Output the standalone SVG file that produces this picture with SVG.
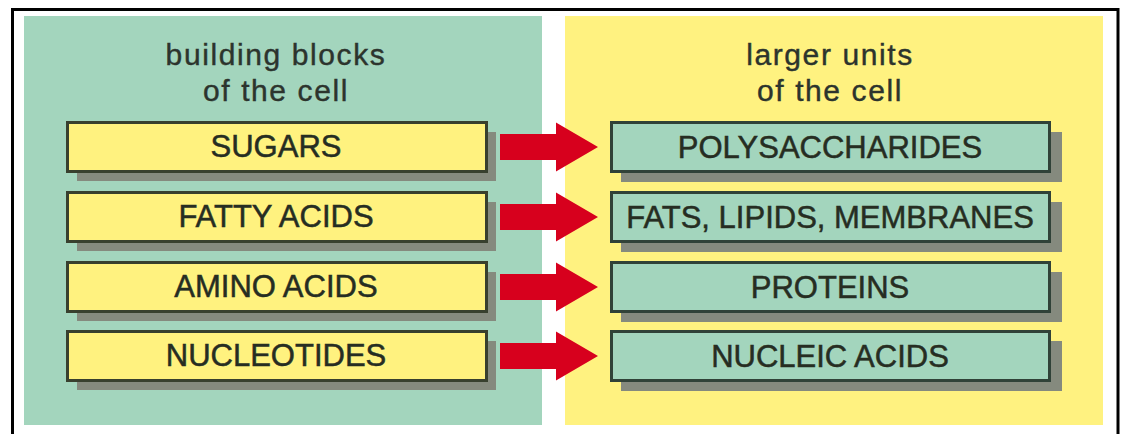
<svg xmlns="http://www.w3.org/2000/svg" width="1123" height="434" viewBox="0 0 1123 434">
  <defs>
    <style>
      .title { font-family: "Liberation Sans", Arial, sans-serif; font-size: 30px; fill: #2c342d; stroke: #2c342d; stroke-width: 0.4; text-anchor: middle; letter-spacing: 1.6px; }
      .lbl { font-family: "Liberation Sans", Arial, sans-serif; font-size: 31px; fill: #262d22; stroke: #262d22; stroke-width: 0.5; text-anchor: middle; }
      .shadow { fill: #858a7e; }
      .ybox { fill: #fff27f; stroke: #38402e; stroke-width: 3; }
      .gbox { fill: #a3d5bd; stroke: #304238; stroke-width: 3; }
      .arrow { fill: #d7001d; }
    </style>
    <path id="arr" class="arrow" d="M0,-13 L56,-13 L56,-24.5 L98,0 L56,24.5 L56,13 L0,13 Z"/>
  </defs>

  <rect x="0" y="0" width="1123" height="434" fill="#ffffff"/>
  <rect x="12.5" y="9.5" width="1105.5" height="440" fill="#ffffff" stroke="#000000" stroke-width="3"/>

  <g id="panel-left">
    <rect x="24" y="16" width="518" height="409" fill="#a3d5bd"/>
    <text class="title" x="276" y="65">building blocks</text>
    <text class="title" x="276" y="101">of the cell</text>
  </g>
  <g id="panel-right">
    <rect x="565" y="16" width="538" height="409" fill="#fff280"/>
    <text class="title" x="830" y="65">larger units</text>
    <text class="title" x="830" y="101">of the cell</text>
  </g>

  <g id="node-sugars">
    <rect class="shadow" x="77" y="132" width="419" height="49"/>
    <rect class="ybox" x="67.5" y="122.5" width="419" height="49"/>
    <text class="lbl" x="276" y="157">SUGARS</text>
  </g>
  <g id="node-fatty-acids">
    <rect class="shadow" x="77" y="202" width="419" height="49"/>
    <rect class="ybox" x="67.5" y="192.5" width="419" height="49"/>
    <text class="lbl" x="276" y="227">FATTY ACIDS</text>
  </g>
  <g id="node-amino-acids">
    <rect class="shadow" x="77" y="272" width="419" height="49"/>
    <rect class="ybox" x="67.5" y="262.5" width="419" height="49"/>
    <text class="lbl" x="276" y="297">AMINO ACIDS</text>
  </g>
  <g id="node-nucleotides">
    <rect class="shadow" x="77" y="341" width="419" height="49"/>
    <rect class="ybox" x="67.5" y="331.5" width="419" height="49"/>
    <text class="lbl" x="276" y="366">NUCLEOTIDES</text>
  </g>

  <g id="node-polysaccharides">
    <rect class="shadow" x="621" y="132" width="441" height="50"/>
    <rect class="gbox" x="611.5" y="122.5" width="438" height="49"/>
    <text class="lbl" x="830" y="158">POLYSACCHARIDES</text>
  </g>
  <g id="node-fats">
    <rect class="shadow" x="621" y="202" width="441" height="50"/>
    <rect class="gbox" x="611.5" y="192.5" width="438" height="49"/>
    <text class="lbl" x="830" y="228">FATS, LIPIDS, MEMBRANES</text>
  </g>
  <g id="node-proteins">
    <rect class="shadow" x="621" y="272" width="441" height="50"/>
    <rect class="gbox" x="611.5" y="262.5" width="438" height="49"/>
    <text class="lbl" x="830" y="298">PROTEINS</text>
  </g>
  <g id="node-nucleic-acids">
    <rect class="shadow" x="621" y="341" width="441" height="50"/>
    <rect class="gbox" x="611.5" y="331.5" width="438" height="49"/>
    <text class="lbl" x="830" y="367">NUCLEIC ACIDS</text>
  </g>

  <g id="connectors">
    <use href="#arr" x="500" y="147"/>
    <use href="#arr" x="500" y="217"/>
    <use href="#arr" x="500" y="287"/>
    <use href="#arr" x="500" y="356"/>
  </g>
</svg>
